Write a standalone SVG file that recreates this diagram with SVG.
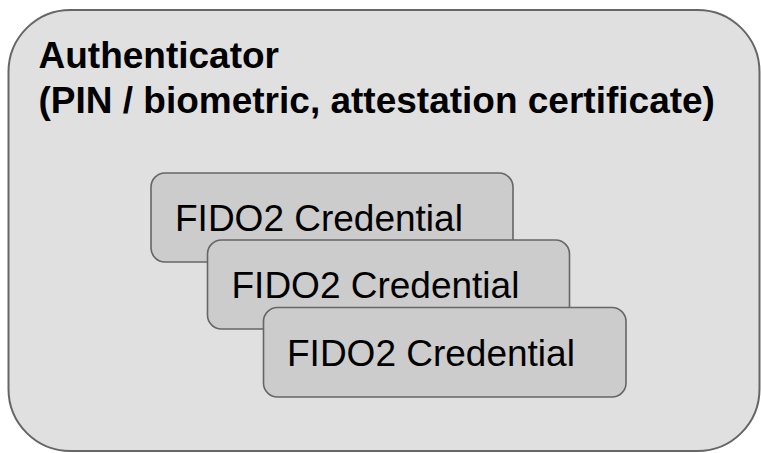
<svg xmlns="http://www.w3.org/2000/svg" width="761" height="453" viewBox="0 0 761 453">
  <style>
    .outer { fill: #e0e0e0; stroke: #666666; stroke-width: 2; }
    .cred { fill: #cccccc; stroke: #666666; stroke-width: 1.6; }
    .title { font-family: "Liberation Sans", Arial, sans-serif; font-weight: bold; font-size: 37px; fill: #000000; }
    .label { font-family: "Liberation Sans", Arial, sans-serif; font-size: 37px; fill: #000000; }
  </style>
  <rect width="761" height="453" fill="#ffffff"/>
  <g id="authenticator">
    <rect class="outer" x="8.5" y="10" width="751" height="441" rx="62" ry="62"/>
    <text class="title" x="38.5" y="68.3">Authenticator</text>
    <text class="title" x="38.5" y="113.3">(PIN / biometric, attestation certificate)</text>
  </g>
  <g id="credential-1">
    <rect class="cred" x="151" y="173" width="362" height="89" rx="14" ry="14"/>
    <text class="label" x="175" y="231">FIDO2 Credential</text>
  </g>
  <g id="credential-2">
    <rect class="cred" x="207.5" y="240" width="362" height="89" rx="14" ry="14"/>
    <text class="label" x="231.5" y="298.3">FIDO2 Credential</text>
  </g>
  <g id="credential-3">
    <rect class="cred" x="263.5" y="307.5" width="362.5" height="89.5" rx="14" ry="14"/>
    <text class="label" x="287" y="366">FIDO2 Credential</text>
  </g>
  <g id="connectors"/>
</svg>
